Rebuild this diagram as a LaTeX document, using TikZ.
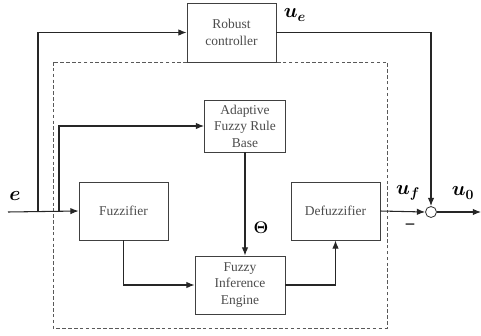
\documentclass[tikz,border=0pt]{standalone}
\usepackage{amsmath}
\usepackage{amssymb}
\usepackage{fontspec}
\setmainfont{Liberation Serif}
\usepackage{tikz}
\usetikzlibrary{positioning, calc, arrows.meta}
\tikzset{
    block/.style={
        draw=black!75, line width=0.7pt, fill=white, align=center,
        text=black!70, font=\fontsize{11.5}{14}\selectfont, inner sep=1pt
    },
    sig/.style={
        line width=0.9pt, black!85, -{Latex[length=7pt,width=5.5pt]}
    },
    sumnode/.style={
        circle, draw=black!80, line width=0.7pt, fill=white, minimum size=0.33cm, inner sep=0pt
    },
    siglabel/.style={
        font=\LARGE\boldmath, inner sep=0pt
    }
}

\begin{document}
\begin{tikzpicture}[x=0.03cm, y=-0.03cm]
    % --- KHUNG ---
    \useasboundingbox (0,0) rectangle (481,335);
    \draw[black!65, line width=0.7pt, dash pattern=on 3pt off 2pt] (53,62) rectangle (387,328);

    % --- CAC KHOI ---
    \node[block, minimum width=2.67cm, minimum height=1.77cm] (robust) at (231.5,32.5) {Robust\\controller};
    \node[block, minimum width=2.43cm, minimum height=1.56cm] (rulebase) at (245,126) {Adaptive\\Fuzzy Rule\\Base};
    \node[block, minimum width=2.67cm, minimum height=1.74cm] (fuzz) at (123.5,211) {Fuzzifier};
    \node[block, minimum width=2.7cm, minimum height=1.74cm] (infer) at (240,285) {Fuzzy\\Inference\\Engine};
    \node[block, minimum width=2.67cm, minimum height=1.74cm] (defuzz) at (335.5,211) {Defuzzifier};
    \node[sumnode] (sum) at (431,212) {};

    % --- DAU VAO / DAU RA ---
    \coordinate (ein) at (8,212);
    \coordinate (tap1) at (38,212);
    \coordinate (tap2) at (59,212);
    \coordinate (uout) at (481,212);

    % --- LIEN KET ---
    \draw[sig] (ein) -- (fuzz.west);
    \draw[sig] (tap1) |- (robust.west);
    \draw[sig] (tap2) |- (rulebase.west);
    \draw[sig] (robust.east) -| (sum.north);
    \draw[sig] (rulebase.south) -- (rulebase.south |- infer.north);
    \draw[sig] (fuzz.south) |- (infer.west);
    \draw[sig] (infer.east) -| (defuzz.south);
    \draw[sig] (defuzz.east) -- (sum.west);
    \draw[sig] (sum.east) -- (uout);

    % --- NHAN ---
    \node[siglabel] (le) at (15,196) {$e$};
    \node[siglabel] (lue) at (295,15) {$u_e$};
    \node[siglabel] (luf) at (408,193) {$u_f$};
    \node[siglabel] (lu0) at (463,193) {$u_0$};
    \node[font=\Large\bfseries, inner sep=0pt] (lminus) at (410,226) {--};
    \node[siglabel, font=\Large\boldmath] (ltheta) at (261,228) {$\Theta$};
\end{tikzpicture}
\end{document}
